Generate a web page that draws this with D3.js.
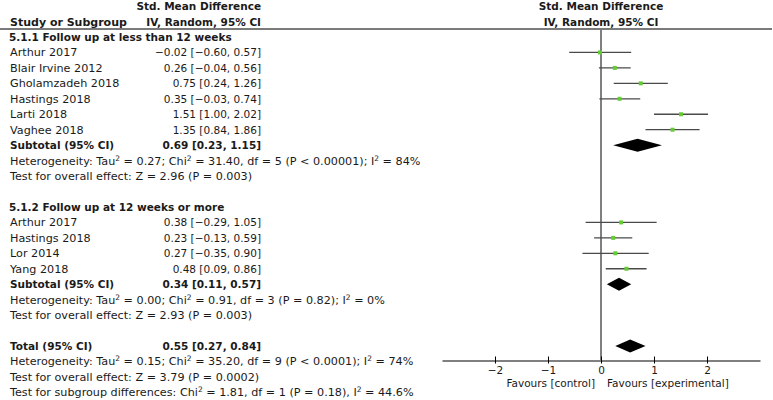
<!DOCTYPE html>
<html><head><meta charset="utf-8">
<script src="https://cdn.jsdelivr.net/npm/d3@7"></script>
<style>
body{margin:0;background:#fff;}
svg{font-family:"DejaVu Sans",sans-serif;font-size:10.5px;}
svg text{fill:#1a1a1a;}
</style></head>
<body><svg id="c" width="773" height="400"></svg>
<script>
// ---- data ----
const group1Title = "5.1.1 Follow up at less than 12 weeks";
const group1Studies = ["Arthur 2017","Blair Irvine 2012","Gholamzadeh 2018","Hastings 2018","Larti 2018","Vaghee 2018"];
const group1Est = [-0.02,0.26,0.75,0.35,1.51,1.35];
const group1Lo  = [-0.60,-0.04,0.24,-0.03,1.00,0.84];
const group1Hi  = [0.57,0.56,1.26,0.74,2.02,1.86];
const group1Sub = [0.69,0.23,1.15];
const group1Het = ["0.27","31.40","5","P < 0.00001","84%"];
const group1Z   = "Z = 2.96 (P = 0.003)";

const group2Title = "5.1.2 Follow up at 12 weeks or more";
const group2Studies = ["Arthur 2017","Hastings 2018","Lor 2014","Yang 2018"];
const group2Est = [0.38,0.23,0.27,0.48];
const group2Lo  = [-0.29,-0.13,-0.35,0.09];
const group2Hi  = [1.05,0.59,0.90,0.86];
const group2Sub = [0.34,0.11,0.57];
const group2Het = ["0.00","0.91","3","P = 0.82","0%"];
const group2Z   = "Z = 2.93 (P = 0.003)";

const totalCI  = [0.55,0.27,0.84];
const totalHet = ["0.15","35.20","9","P < 0.0001","74%"];
const totalZ   = "Z = 3.79 (P = 0.0002)";
const subgroupTest = ["1.81","1","P = 0.18","44.6%"];

const xTicks = [-2,-1,0,1,2];
const xDomain = [-3,3];

// ---- helpers ----
const fmt = v => (v<0?"\u2212":"") + Math.abs(v).toFixed(2);
const ciText = (e,l,h) => `${fmt(e)} [${fmt(l)}, ${fmt(h)}]`;

// build rows
const rows = [];
function addGroup(title, names, est, lo, hi, sub, het, z){
  rows.push({type:"title", label:title});
  names.forEach((n,i)=>rows.push({type:"study", label:n, est:est[i], lo:lo[i], hi:hi[i]}));
  rows.push({type:"sub", label:"Subtotal (95% CI)", est:sub[0], lo:sub[1], hi:sub[2]});
  rows.push({type:"het", het});
  rows.push({type:"text", label:"Test for overall effect: "+z});
  rows.push({type:"blank"});
}
addGroup(group1Title, group1Studies, group1Est, group1Lo, group1Hi, group1Sub, group1Het, group1Z);
addGroup(group2Title, group2Studies, group2Est, group2Lo, group2Hi, group2Sub, group2Het, group2Z);
rows.push({type:"sub", label:"Total (95% CI)", est:totalCI[0], lo:totalCI[1], hi:totalCI[2]});
rows.push({type:"het", het:totalHet});
rows.push({type:"text", label:"Test for overall effect: "+totalZ});
rows.push({type:"sgt", v:subgroupTest});

const svg = d3.select("#c");
const y = d3.scaleLinear().domain([0,1]).range([37, 37+15.45]);
const x = d3.scaleLinear().domain(xDomain).range([442, 760]);
const valRight = 261;
const statSize = "11.2px", nameSize = "11.2px";

// header
const hdr = svg.append("g");
hdr.append("text").attr("x",10).attr("y",26).attr("font-weight","bold").attr("font-size","11px").text("Study or Subgroup");
hdr.append("text").attr("x",valRight).attr("y",10).attr("text-anchor","end").attr("font-weight","bold").text("Std. Mean Difference");
hdr.append("text").attr("x",valRight).attr("y",26).attr("text-anchor","end").attr("font-weight","bold").text("IV, Random, 95% CI");
hdr.append("text").attr("x",601).attr("y",10).attr("text-anchor","middle").attr("font-weight","bold").text("Std. Mean Difference");
hdr.append("text").attr("x",601).attr("y",26).attr("text-anchor","middle").attr("font-weight","bold").text("IV, Random, 95% CI");
svg.append("line").attr("x1",0).attr("x2",772).attr("y1",29).attr("y2",29)
  .attr("stroke","#7a7a7a").attr("stroke-width",2);

// zero line
svg.append("line").attr("x1",x(0)).attr("x2",x(0)).attr("y1",30).attr("y2",360)
  .attr("stroke","#000").attr("stroke-width",1);

function sup(t, parts){
  let prevSup = false;
  parts.forEach(p=>{
    if(p==="^2"){
      t.append("tspan").attr("dy",-4).attr("font-size","7.5px").text("2");
      prevSup = true;
    } else {
      const s = t.append("tspan").text(p);
      if(prevSup) s.attr("dy",4);
      prevSup = false;
    }
  });
}

rows.forEach((r,i)=>{
  const yy = y(i), base = yy+4;
  if(r.type==="title"){
    svg.append("text").attr("x",9).attr("y",base).attr("font-weight","bold").text(r.label);
  } else if(r.type==="study" || r.type==="sub"){
    const bold = r.type==="sub";
    svg.append("text").attr("x",10).attr("y",base).attr("font-weight",bold?"bold":null)
      .attr("font-size",bold?"10.5px":nameSize).text(r.label);
    svg.append("text").attr("x",valRight).attr("y",base).attr("text-anchor","end").attr("font-weight",bold?"bold":null).text(ciText(r.est,r.lo,r.hi));
    if(r.type==="study"){
      svg.append("line").attr("x1",x(r.lo)).attr("x2",x(r.hi)).attr("y1",yy).attr("y2",yy)
        .attr("stroke","#4a4a4a").attr("stroke-width",1.3);
      svg.append("rect").attr("x",x(r.est)-2).attr("y",yy-2).attr("width",4).attr("height",4).attr("fill","#66cc33");
    } else {
      svg.append("path").attr("d",`M${x(r.lo)},${yy}L${x(r.est)},${yy-6.5}L${x(r.hi)},${yy}L${x(r.est)},${yy+6.5}Z`).attr("fill","#000");
    }
  } else if(r.type==="het"){
    const h = r.het;
    const t = svg.append("text").attr("x",10).attr("y",base).attr("font-size",statSize);
    sup(t, ["Heterogeneity: Tau","^2",` = ${h[0]}; Chi`,"^2",` = ${h[1]}, df = ${h[2]} (${h[3]}); I`,"^2",` = ${h[4]}`]);
  } else if(r.type==="text"){
    svg.append("text").attr("x",10).attr("y",base).attr("font-size",statSize).text(r.label);
  } else if(r.type==="sgt"){
    const v = r.v;
    const t = svg.append("text").attr("x",10).attr("y",base).attr("font-size",statSize);
    sup(t, ["Test for subgroup differences: Chi","^2",` = ${v[0]}, df = ${v[1]} (${v[2]}), I`,"^2",` = ${v[3]}`]);
  }
});

// axis
const ax = svg.append("g").attr("transform","translate(0,360.5)");
ax.call(d3.axisBottom(x).tickValues(xTicks).tickSize(0).tickFormat(d=>d<0?"\u2212"+Math.abs(d):d));
ax.attr("font-family",null).attr("font-size",null);
ax.select(".domain").attr("stroke","#000");
ax.selectAll(".tick line").remove();
ax.selectAll(".tick").append("line").attr("y1",-4).attr("y2",3).attr("stroke","#000");
ax.selectAll(".tick text").attr("y",6).attr("dy","0.71em").attr("fill","#1a1a1a");
svg.append("text").attr("x",595).attr("y",387).attr("text-anchor","end").text("Favours [control]");
svg.append("text").attr("x",607).attr("y",387).text("Favours [experimental]");
</script></body></html>
